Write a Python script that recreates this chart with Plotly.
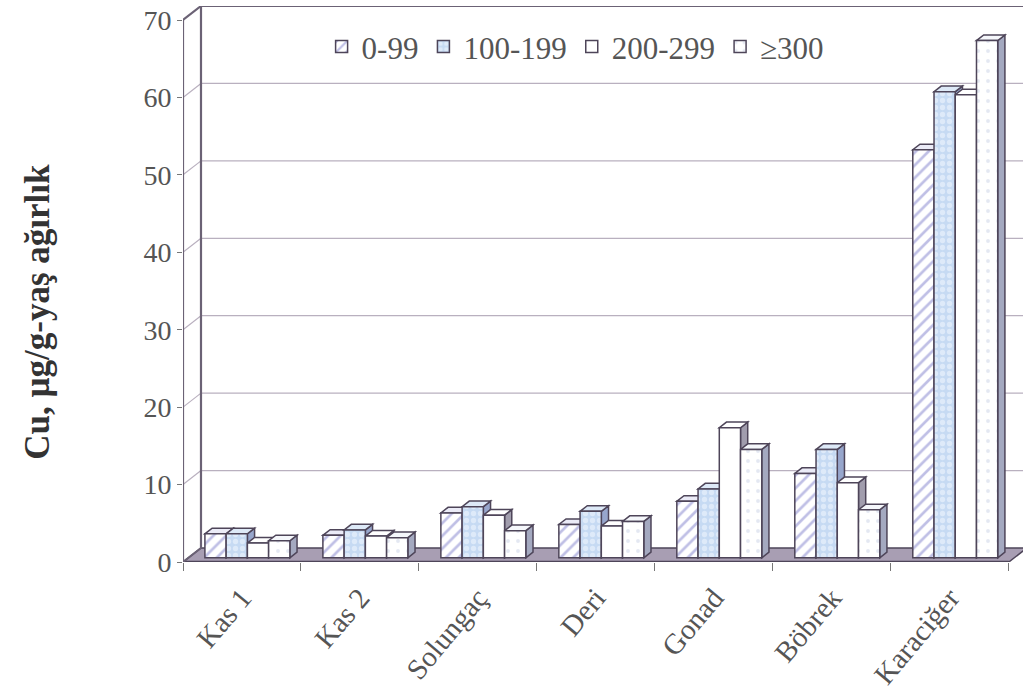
import plotly.graph_objects as go

# ---------------- data ----------------
categories = ["Kas 1", "Kas 2", "Solungaç", "Deri", "Gonad", "Böbrek", "Karaciğer"]
series_names = ["0-99", "100-199", "200-299", "≥300"]
vals_0_99 = [3.1, 2.9, 5.8, 4.3, 7.3, 10.9, 52.7]
vals_100_199 = [3.1, 3.6, 6.6, 6.0, 8.9, 14.0, 60.2]
vals_200_299 = [1.9, 2.8, 5.5, 4.1, 16.8, 9.7, 59.8]
vals_300 = [2.2, 2.6, 3.5, 4.7, 14.0, 6.2, 66.8]
y_ticks = [0, 10, 20, 30, 40, 50, 60, 70]
y_title = "Cu, µg/g-yaş ağırlık"

series_values = [vals_0_99, vals_100_199, vals_200_299, vals_300]

# ---------------- styling / geometry ----------------
W, H = 1023, 695
ML, MR, MT, MB = 183, 0, 6, 133
DX, DY = 0.1525, 1.808          # full depth of the 3D box, in data units
D_FRONT, D_BACK = 0.3, 0.7      # depth range occupied by the columns
BAR_W = 0.18
BAR_START = 0.14
N = len(categories)
Y_MAX = y_ticks[-1]
X_RANGE = [0, 7.12]
Y_RANGE = [0, Y_MAX + DY]

OUT = "#4e4559"
WALL_LINE = "#6b6275"
GRID = "#b9b0bf"
FLOOR = "#a89eb3"
SERIF = "Liberation Serif, Times New Roman, serif"

front_style = [
    dict(color="white", pattern=dict(shape="/", fgcolor="#7f80cc", size=9, solidity=0.3, fillmode="overlay")),
    dict(color="#c6daf3", pattern=dict(shape=".", fgcolor="#f6f9ff", size=7, solidity=0.45, fillmode="overlay")),
    dict(color="white"),
    dict(color="white", pattern=dict(shape=".", fgcolor="#c9d2e6", size=10, solidity=0.12, fillmode="overlay")),
]
top_colors = ["#ebebf7", "#dde9f7", "#ffffff", "#f5f7fb"]
side_colors = ["#a39fb8", "#97a6cc", "#a19dad", "#a4a9c0"]


def poly(points):
    return "M " + " L ".join(f"{x:.5f},{y:.5f}" for x, y in points) + " Z"


shapes = []

# back wall (white) with gridlines
shapes.append(dict(type="path", path=poly([(DX, DY), (X_RANGE[1] + 1, DY), (X_RANGE[1] + 1, Y_MAX + DY), (DX, Y_MAX + DY)]),
                   fillcolor="white", line=dict(width=0), layer="below"))
for t in y_ticks[1:-1]:
    shapes.append(dict(type="line", x0=DX, y0=t + DY, x1=X_RANGE[1] + 1, y1=t + DY,
                       line=dict(color=GRID, width=1.2), layer="below"))
    shapes.append(dict(type="line", x0=0, y0=t, x1=DX, y1=t + DY,
                       line=dict(color=GRID, width=1.2), layer="below"))

# floor
shapes.append(dict(type="path", path=poly([(0, 0), (N, 0), (N + DX, DY), (DX, DY)]),
                   fillcolor=FLOOR, line=dict(color=OUT, width=1.5), layer="below"))
shapes.append(dict(type="line", x0=0, y0=0, x1=N, y1=0, line=dict(color=OUT, width=2.5), layer="below"))

# wall frame
shapes.append(dict(type="line", x0=0, y0=0, x1=0, y1=Y_MAX, line=dict(color=WALL_LINE, width=2.2), layer="below"))
shapes.append(dict(type="line", x0=0, y0=Y_MAX, x1=DX, y1=Y_MAX + DY, line=dict(color=WALL_LINE, width=2.2), layer="below"))
shapes.append(dict(type="line", x0=DX, y0=DY, x1=DX, y1=Y_MAX + DY, line=dict(color=WALL_LINE, width=2.2), layer="below"))
shapes.append(dict(type="line", x0=DX, y0=Y_MAX + DY, x1=X_RANGE[1] + 1, y1=Y_MAX + DY, line=dict(color=WALL_LINE, width=2.2), layer="below"))
shapes.append(dict(type="line", x0=0, y0=0, x1=DX, y1=DY, line=dict(color=WALL_LINE, width=2), layer="below"))

# column tops and sides (drawn left to right so nearer faces overlap correctly)
for g in range(N):
    for s, vals in enumerate(series_values):
        v = vals[g]
        xl = g + BAR_START + s * BAR_W
        xr = xl + BAR_W
        f, b = D_FRONT, D_BACK
        side = [(xr + f * DX, f * DY), (xr + b * DX, b * DY), (xr + b * DX, v + b * DY), (xr + f * DX, v + f * DY)]
        top = [(xl + f * DX, v + f * DY), (xr + f * DX, v + f * DY), (xr + b * DX, v + b * DY), (xl + b * DX, v + b * DY)]
        shapes.append(dict(type="path", path=poly(side), fillcolor=side_colors[s],
                           line=dict(color=OUT, width=1.5), layer="below"))
        shapes.append(dict(type="path", path=poly(top), fillcolor=top_colors[s],
                           line=dict(color=OUT, width=1.5), layer="below"))

fig = go.Figure()

# column front faces
for s, (name, vals) in enumerate(zip(series_names, series_values)):
    xs = [g + BAR_START + (s + 0.5) * BAR_W + D_FRONT * DX for g in range(N)]
    fig.add_trace(go.Bar(
        x=xs, y=vals, base=D_FRONT * DY, width=BAR_W, name=name,
        marker=dict(line=dict(color=OUT, width=1.5), **front_style[s]),
        hovertemplate="%{customdata}: %{y}<extra>" + name + "</extra>",
        customdata=categories,
    ))

# invisible trace to carry the category axis
fig.add_trace(go.Scatter(x=[g + 0.5 for g in range(N)], y=[0] * N, xaxis="x2", mode="markers",
                         marker=dict(opacity=0), showlegend=False, hoverinfo="skip"))

fig.update_layout(
    width=W, height=H,
    margin=dict(l=ML, r=MR, t=MT, b=MB),
    paper_bgcolor="white", plot_bgcolor="white",
    barmode="overlay",
    shapes=shapes,
    font=dict(family=SERIF, color="#555555"),
    xaxis=dict(range=X_RANGE, tickvals=list(range(N + 1)), showticklabels=False,
               ticks="outside", ticklen=8, tickcolor="#777777", tickwidth=1,
               showgrid=False, zeroline=False, showline=False, fixedrange=True),
    xaxis2=dict(range=X_RANGE, overlaying="x", side="bottom", anchor="y",
                tickvals=[g + 0.5 for g in range(N)], ticktext=categories,
                tickangle=-50, ticks="", showgrid=False, zeroline=False, showline=False,
                tickfont=dict(family=SERIF, size=29, color="#555555"), ticklabelstandoff=12,
                fixedrange=True),
    yaxis=dict(range=Y_RANGE, tickvals=y_ticks, ticks="outside", ticklen=5, tickcolor="#777777",
               showgrid=False, zeroline=False, showline=False,
               tickfont=dict(family=SERIF, size=28, color="#555555"),
               fixedrange=True),
    annotations=[dict(text=y_title, textangle=-90, xref="paper", yref="paper",
                      x=(38 - ML) / (W - ML - MR), y=0.45, xanchor="center", yanchor="middle",
                      showarrow=False,
                      font=dict(family=SERIF, size=35, color="#333333", weight="bold"))],
    legend=dict(orientation="h", x=0.165, xanchor="left", y=0.975, yanchor="top",
                font=dict(family=SERIF, size=31, color="#555555"),
                bgcolor="rgba(255,255,255,0)", itemwidth=30, traceorder="normal"),
    showlegend=True,
)

fig.write_html("out.html")
